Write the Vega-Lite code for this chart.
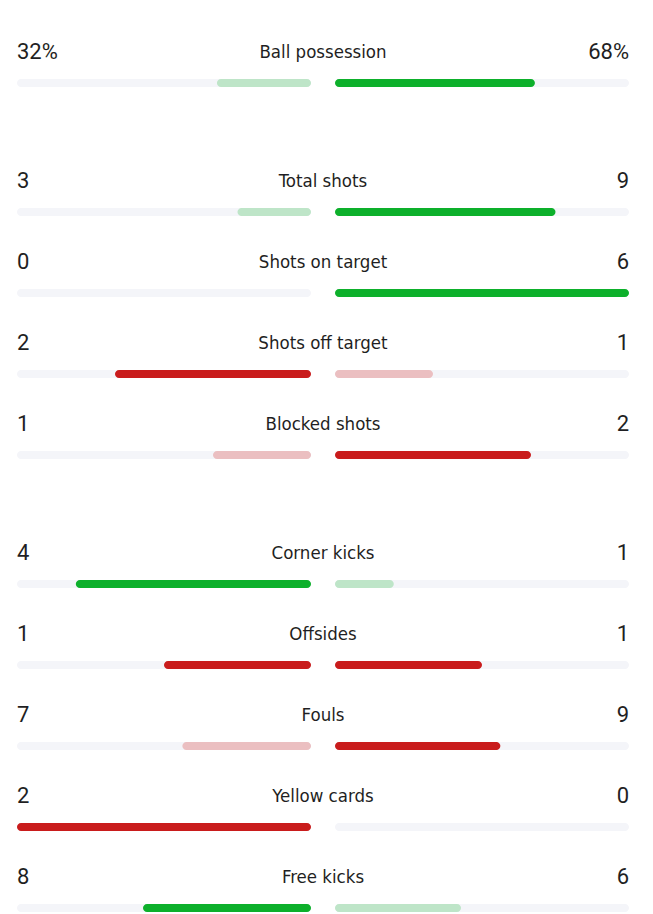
{
  "$schema": "https://vega.github.io/schema/vega-lite/v6.json",
  "padding": {"top": 8, "left": 17, "right": 24, "bottom": 0},
  "background": "white",
  "config": {
    "view": {"stroke": null},
    "text": {"font": "Roboto", "fontSize": 22, "color": "#1f1f23", "baseline": "middle"}
  },
  "data": {
    "values": [
      {"group": 1, "stat": "Ball possession", "home": 32, "away": 68, "homeText": "32%", "awayText": "68%", "polarity": "good"},
      {"group": 2, "stat": "Total shots", "home": 3, "away": 9, "homeText": "3", "awayText": "9", "polarity": "good"},
      {"group": 2, "stat": "Shots on target", "home": 0, "away": 6, "homeText": "0", "awayText": "6", "polarity": "good"},
      {"group": 2, "stat": "Shots off target", "home": 2, "away": 1, "homeText": "2", "awayText": "1", "polarity": "bad"},
      {"group": 2, "stat": "Blocked shots", "home": 1, "away": 2, "homeText": "1", "awayText": "2", "polarity": "bad"},
      {"group": 3, "stat": "Corner kicks", "home": 4, "away": 1, "homeText": "4", "awayText": "1", "polarity": "good"},
      {"group": 3, "stat": "Offsides", "home": 1, "away": 1, "homeText": "1", "awayText": "1", "polarity": "bad"},
      {"group": 3, "stat": "Fouls", "home": 7, "away": 9, "homeText": "7", "awayText": "9", "polarity": "bad"},
      {"group": 3, "stat": "Yellow cards", "home": 2, "away": 0, "homeText": "2", "awayText": "0", "polarity": "bad"},
      {"group": 3, "stat": "Free kicks", "home": 8, "away": 6, "homeText": "8", "awayText": "6", "polarity": "good"}
    ]
  },
  "transform": [
    {"calculate": "datum.home + datum.away", "as": "total"},
    {"calculate": "datum.home / datum.total", "as": "homeShare"},
    {"calculate": "datum.away / datum.total", "as": "awayShare"},
    {"calculate": "datum.polarity + (datum.home >= datum.away ? ' lead' : ' trail')", "as": "homeTone"},
    {"calculate": "datum.polarity + (datum.away >= datum.home ? ' lead' : ' trail')", "as": "awayTone"}
  ],
  "spacing": 48,
  "vconcat": [
    {
      "width": 612, "height": 81,
      "transform": [{"filter": "datum.group == 1"}],
      "encoding": {"y": {"field": "stat", "type": "nominal", "sort": null, "axis": null, "scale": {"type": "band", "paddingInner": 0, "paddingOuter": 0}}},
      "resolve": {"scale": {"x": "independent"}},
      "layer": [
        {"mark": {"type": "bar", "size": 8, "cornerRadius": 4, "yOffset": 34.5, "color": "#f4f5f9"},
         "encoding": {"x": {"datum": 1, "type": "quantitative", "axis": null, "scale": {"domain": [-1.0816, 1], "reverse": true}}, "x2": {"datum": 0}}},
        {"mark": {"type": "bar", "size": 8, "cornerRadius": 4, "yOffset": 34.5},
         "transform": [{"filter": "datum.homeShare > 0"}],
         "encoding": {"x": {"field": "homeShare", "type": "quantitative", "axis": null, "scale": {"domain": [-1.0816, 1], "reverse": true}}, "x2": {"datum": 0},
           "color": {"field": "homeTone", "type": "nominal", "legend": null, "scale": {"domain": ["good lead", "good trail", "bad lead", "bad trail"], "range": ["#0db02b", "#bee5c8", "#c91c1c", "#ebbfc1"]}}}},
        {"mark": {"type": "bar", "size": 8, "cornerRadius": 4, "yOffset": 34.5, "color": "#f4f5f9"},
         "encoding": {"x": {"datum": 1, "type": "quantitative", "axis": null, "scale": {"domain": [-1.0816, 1]}}, "x2": {"datum": 0}}},
        {"mark": {"type": "bar", "size": 8, "cornerRadius": 4, "yOffset": 34.5},
         "transform": [{"filter": "datum.awayShare > 0"}],
         "encoding": {"x": {"field": "awayShare", "type": "quantitative", "axis": null, "scale": {"domain": [-1.0816, 1]}}, "x2": {"datum": 0},
           "color": {"field": "awayTone", "type": "nominal", "legend": null, "scale": {"domain": ["good lead", "good trail", "bad lead", "bad trail"], "range": ["#0db02b", "#bee5c8", "#c91c1c", "#ebbfc1"]}}}},
        {"mark": {"type": "text", "align": "center", "dy": 3.5, "font": "DejaVu Sans Condensed, Roboto Condensed, Roboto", "fontSize": 18.5},
         "encoding": {"text": {"field": "stat"}}},
        {"mark": {"type": "text", "align": "left", "dy": 3},
         "encoding": {"x": {"datum": 1, "type": "quantitative", "axis": null, "scale": {"domain": [-1.0816, 1], "reverse": true}}, "text": {"field": "homeText"}}},
        {"mark": {"type": "text", "align": "right", "dy": 3},
         "encoding": {"x": {"datum": 1, "type": "quantitative", "axis": null, "scale": {"domain": [-1.0816, 1]}}, "text": {"field": "awayText"}}}
      ]
    },
    {
      "width": 612, "height": 324,
      "transform": [{"filter": "datum.group == 2"}],
      "encoding": {"y": {"field": "stat", "type": "nominal", "sort": null, "axis": null, "scale": {"type": "band", "paddingInner": 0, "paddingOuter": 0}}},
      "resolve": {"scale": {"x": "independent"}},
      "layer": [
        {"mark": {"type": "bar", "size": 8, "cornerRadius": 4, "yOffset": 34.5, "color": "#f4f5f9"},
         "encoding": {"x": {"datum": 1, "type": "quantitative", "axis": null, "scale": {"domain": [-1.0816, 1], "reverse": true}}, "x2": {"datum": 0}}},
        {"mark": {"type": "bar", "size": 8, "cornerRadius": 4, "yOffset": 34.5},
         "transform": [{"filter": "datum.homeShare > 0"}],
         "encoding": {"x": {"field": "homeShare", "type": "quantitative", "axis": null, "scale": {"domain": [-1.0816, 1], "reverse": true}}, "x2": {"datum": 0},
           "color": {"field": "homeTone", "type": "nominal", "legend": null, "scale": {"domain": ["good lead", "good trail", "bad lead", "bad trail"], "range": ["#0db02b", "#bee5c8", "#c91c1c", "#ebbfc1"]}}}},
        {"mark": {"type": "bar", "size": 8, "cornerRadius": 4, "yOffset": 34.5, "color": "#f4f5f9"},
         "encoding": {"x": {"datum": 1, "type": "quantitative", "axis": null, "scale": {"domain": [-1.0816, 1]}}, "x2": {"datum": 0}}},
        {"mark": {"type": "bar", "size": 8, "cornerRadius": 4, "yOffset": 34.5},
         "transform": [{"filter": "datum.awayShare > 0"}],
         "encoding": {"x": {"field": "awayShare", "type": "quantitative", "axis": null, "scale": {"domain": [-1.0816, 1]}}, "x2": {"datum": 0},
           "color": {"field": "awayTone", "type": "nominal", "legend": null, "scale": {"domain": ["good lead", "good trail", "bad lead", "bad trail"], "range": ["#0db02b", "#bee5c8", "#c91c1c", "#ebbfc1"]}}}},
        {"mark": {"type": "text", "align": "center", "dy": 3.5, "font": "DejaVu Sans Condensed, Roboto Condensed, Roboto", "fontSize": 18.5},
         "encoding": {"text": {"field": "stat"}}},
        {"mark": {"type": "text", "align": "left", "dy": 3},
         "encoding": {"x": {"datum": 1, "type": "quantitative", "axis": null, "scale": {"domain": [-1.0816, 1], "reverse": true}}, "text": {"field": "homeText"}}},
        {"mark": {"type": "text", "align": "right", "dy": 3},
         "encoding": {"x": {"datum": 1, "type": "quantitative", "axis": null, "scale": {"domain": [-1.0816, 1]}}, "text": {"field": "awayText"}}}
      ]
    },
    {
      "width": 612, "height": 405,
      "transform": [{"filter": "datum.group == 3"}],
      "encoding": {"y": {"field": "stat", "type": "nominal", "sort": null, "axis": null, "scale": {"type": "band", "paddingInner": 0, "paddingOuter": 0}}},
      "resolve": {"scale": {"x": "independent"}},
      "layer": [
        {"mark": {"type": "bar", "size": 8, "cornerRadius": 4, "yOffset": 34.5, "color": "#f4f5f9"},
         "encoding": {"x": {"datum": 1, "type": "quantitative", "axis": null, "scale": {"domain": [-1.0816, 1], "reverse": true}}, "x2": {"datum": 0}}},
        {"mark": {"type": "bar", "size": 8, "cornerRadius": 4, "yOffset": 34.5},
         "transform": [{"filter": "datum.homeShare > 0"}],
         "encoding": {"x": {"field": "homeShare", "type": "quantitative", "axis": null, "scale": {"domain": [-1.0816, 1], "reverse": true}}, "x2": {"datum": 0},
           "color": {"field": "homeTone", "type": "nominal", "legend": null, "scale": {"domain": ["good lead", "good trail", "bad lead", "bad trail"], "range": ["#0db02b", "#bee5c8", "#c91c1c", "#ebbfc1"]}}}},
        {"mark": {"type": "bar", "size": 8, "cornerRadius": 4, "yOffset": 34.5, "color": "#f4f5f9"},
         "encoding": {"x": {"datum": 1, "type": "quantitative", "axis": null, "scale": {"domain": [-1.0816, 1]}}, "x2": {"datum": 0}}},
        {"mark": {"type": "bar", "size": 8, "cornerRadius": 4, "yOffset": 34.5},
         "transform": [{"filter": "datum.awayShare > 0"}],
         "encoding": {"x": {"field": "awayShare", "type": "quantitative", "axis": null, "scale": {"domain": [-1.0816, 1]}}, "x2": {"datum": 0},
           "color": {"field": "awayTone", "type": "nominal", "legend": null, "scale": {"domain": ["good lead", "good trail", "bad lead", "bad trail"], "range": ["#0db02b", "#bee5c8", "#c91c1c", "#ebbfc1"]}}}},
        {"mark": {"type": "text", "align": "center", "dy": 3.5, "font": "DejaVu Sans Condensed, Roboto Condensed, Roboto", "fontSize": 18.5},
         "encoding": {"text": {"field": "stat"}}},
        {"mark": {"type": "text", "align": "left", "dy": 3},
         "encoding": {"x": {"datum": 1, "type": "quantitative", "axis": null, "scale": {"domain": [-1.0816, 1], "reverse": true}}, "text": {"field": "homeText"}}},
        {"mark": {"type": "text", "align": "right", "dy": 3},
         "encoding": {"x": {"datum": 1, "type": "quantitative", "axis": null, "scale": {"domain": [-1.0816, 1]}}, "text": {"field": "awayText"}}}
      ]
    }
  ]
}
